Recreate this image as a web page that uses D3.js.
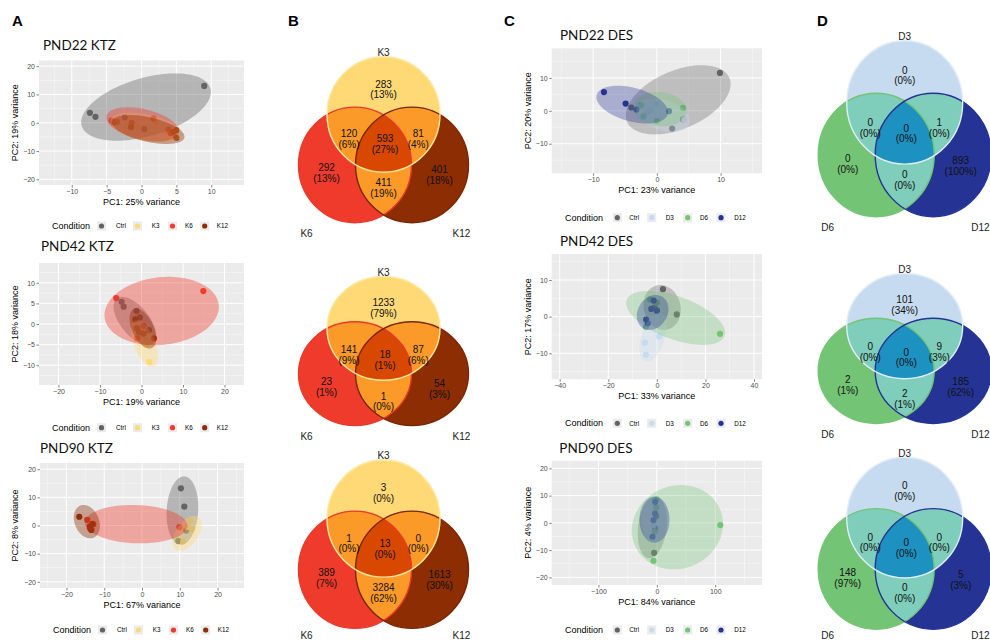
<!DOCTYPE html>
<html><head><meta charset="utf-8">
<script src="https://cdn.jsdelivr.net/npm/d3@7"></script>
<style>body{margin:0;background:#fff}svg{display:block}</style>
</head><body>
<svg id="c" width="990" height="642"></svg>
<script>
// ---------------- DATA ----------------
const ktzGroups = ["Ctrl","K3","K6","K12"];
const desGroups = ["Ctrl","D3","D6","D12"];

// PCA points: [group, PC1, PC2]
const pnd22Ktz = [["Ctrl",-7.4,3.5],["Ctrl",-6.6,2.1],["Ctrl",9.0,13.0],["Ctrl",-2.4,1.9],["Ctrl",0.4,-2.2],
  ["K3",-2.1,-1.2],["K3",-0.4,-1.6],["K3",2.1,0.1],["K3",3.5,-3.2],["K3",-1.4,-1.8],
  ["K6",-4.3,0.8],["K6",-3.5,0.3],["K6",-1.4,0.0],["K6",1.7,1.5],["K6",3.9,-2.4],["K6",4.2,-3.7],
  ["K12",-4.0,0.1],["K12",-1.5,-1.5],["K12",5.0,-2.6],["K12",5.0,-5.3],["K12",4.6,-3.2]];
const pnd42Ktz = [["Ctrl",-4.8,5.4],["Ctrl",-4.3,4.2],["Ctrl",-1.2,3.2],["Ctrl",-0.4,1.6],["Ctrl",1.8,-1.5],
  ["K3",1.9,-9.2],["K3",1.0,-5.1],["K3",1.2,-3.9],["K3",-1.0,-0.7],["K3",0.0,-2.7],
  ["K6",-6.1,6.3],["K6",14.9,8.0],["K6",0.5,-0.5],["K6",-1.0,-3.5],["K6",-1.2,-1.0],
  ["K12",-1.5,1.1],["K12",-1.0,-1.1],["K12",3.0,-3.5],["K12",-0.6,-2.0],["K12",0.5,-2.3]];
const pnd90Ktz = [["Ctrl",10.3,13.2],["Ctrl",11.2,6.7],["Ctrl",11.7,-1.8],["Ctrl",9.6,-5.5],
  ["K3",12.7,1.7],["K3",13.3,-1.3],["K3",10.9,-5.7],["K3",12.0,-0.5],
  ["K6",-14.5,2.0],["K6",-12.9,0.4],["K6",-13.8,-1.0],["K6",9.9,-0.6],
  ["K12",-16.6,3.1],["K12",-13.8,-0.3],["K12",-13.4,-1.6],["K12",-13.1,0.6]];
const pnd22Des = [["Ctrl",9.9,11.5],["Ctrl",-4.0,1.0],["Ctrl",2.4,-5.4],["Ctrl",4.1,-2.6],
  ["D3",-0.1,2.0],["D3",-1.5,-0.4],["D3",4.3,-2.7],["D3",-1.0,0.2],
  ["D6",-2.5,1.7],["D6",-2.1,-1.7],["D6",0.0,-3.1],["D6",4.1,0.9],
  ["D12",-8.3,5.7],["D12",-4.9,2.2],["D12",-3.2,0.4],["D12",1.9,-0.1]];
const pnd42Des = [["Ctrl",2.5,7.5],["Ctrl",8.2,0.6],["Ctrl",0.0,1.7],["Ctrl",-1.0,2.5],
  ["D3",-4.9,-7.1],["D3",-4.5,-10.4],["D3",1.0,-5.4],["D3",-4.4,-1.1],
  ["D6",-2.8,4.7],["D6",26.0,-4.7],["D6",-4.5,-2.8],["D6",0.0,3.8],
  ["D12",-1.3,4.4],["D12",-2.3,2.1],["D12",-4.4,-0.8],["D12",-3.7,-1.8],["D12",0.0,1.6]];
const pnd90Des = [["Ctrl",-4.7,-11.0],["Ctrl",-0.9,2.4],["Ctrl",-3.0,-2.0],
  ["D3",-5.8,-0.8],["D3",-4.0,4.0],["D3",-3.0,7.0],
  ["D6",108.6,-0.8],["D6",-5.8,-13.9],["D6",-0.4,8.6],["D6",-0.9,5.7],["D6",-3.6,-3.2],
  ["D12",-2.9,7.7],["D12",-5.8,1.0],["D12",-7.5,-5.1],["D12",-3.0,3.4]];

// confidence ellipses: [group, cx, cy, halfWidth, halfHeight, tilt]
const pnd22KtzEll = [["Ctrl",0.65,5.55,9.3,11.9,0.45],["K3",0.65,-1.76,5.14,5.3,-0.45],["K6",0.15,-0.57,5.19,6.07,-0.4],["K12",0.96,-2.4,5.21,5.12,-0.5]];
const pnd42KtzEll = [["Ctrl",-1.6,0.72,5.14,5.87,-0.6],["K3",0.72,-4.74,3.21,5.66,-0.55],["K6",4.86,3.15,13.78,8.29,0.12],["K12",0.32,-1.1,3.21,4.85,-0.5]];
const pnd90KtzEll = [["Ctrl",10.7,5.28,4.2,12.16,0.1],["K3",11.94,-2.79,3.85,6.17,0.5],["K6",-1.55,0.47,13.57,6.82,-0.08],["K12",-14.6,1.36,3.45,5.93,-0.25]];
const pnd22DesEll = [["Ctrl",3.35,3.35,8.22,10.52,0.45],["D3",1.0,-1.37,4.19,5.08,-0.35],["D6",0.47,0.51,4.19,5.23,-0.1],["D12",-3.87,1.88,5.62,5.74,-0.4]];
const pnd42DesEll = [["Ctrl",2.18,2.51,7.68,6.13,-0.1],["D3",-1.52,-5.58,5.62,6.68,0.45],["D6",7.74,-0.35,20.37,7.36,-0.55],["D12",-1.73,1.14,6.52,4.77,0.2]];
const pnd90DesEll = [["Ctrl",-7.8,-1.72,24.9,11.3,0.2],["D3",-2.9,1.15,22.9,8.7,0],["D6",35.1,-1.6,78.0,15.47,0.08],["D12",-4.1,1.15,25.7,8.44,0]];

// axis ticks
const ticksA1x=[-10,-5,0,5,10], ticksA1y=[-20,-10,0,10,20];
const ticksA2x=[-20,-10,0,10,20], ticksA2y=[-10,-5,0,5,10];
const ticksA3x=[-20,-10,0,10,20], ticksA3y=[-20,-10,0,10,20];
const ticksC1x=[-10,0,10], ticksC1y=[-10,0,10];
const ticksC2x=[-40,-20,0,20,40], ticksC2y=[-10,0,10];
const ticksC3x=[-100,0,100], ticksC3y=[-20,-10,0,10,20];

const pc1Var = {A1:25,A2:19,A3:67,C1:23,C2:33,C3:84};
const pc2Var = {A1:19,A2:18,A3:8,C1:20,C2:17,C3:4};
const plotTitles = {A1:"PND22 KTZ",A2:"PND42 KTZ",A3:"PND90 KTZ",C1:"PND22 DES",C2:"PND42 DES",C3:"PND90 DES"};

// Venn regions order: topOnly, top&left, all, top&right, leftOnly, left&right, rightOnly
const vennKtzNames = ["K3","K6","K12"];
const vennDesNames = ["D3","D6","D12"];
const vennB1 = [283,120,593,81,292,411,401], vennB1Pct = [13,6,27,4,13,19,18];
const vennB2 = [1233,141,18,87,23,1,54],     vennB2Pct = [79,9,1,6,1,0,3];
const vennB3 = [3,1,13,0,389,3284,1613],     vennB3Pct = [0,0,0,0,7,62,30];
const vennD1 = [0,0,0,1,0,0,893],            vennD1Pct = [0,0,0,0,0,0,100];
const vennD2 = [101,0,0,9,2,2,185],          vennD2Pct = [34,0,0,3,1,1,62];
const vennD3 = [0,0,0,0,148,0,5],            vennD3Pct = [0,0,0,0,97,0,3];

// ---------------- STYLE / LAYOUT ----------------
const svg = d3.select("#c");
const FONT = '"Liberation Sans", Arial, Helvetica, sans-serif';
const TFONT = 'Lato, "Open Sans", sans-serif';
const ktzCol = ["#636363","#FED976","#EF3B2C","#8C2D04"];
const desCol = ["#636363","#C6DBEF","#74C476","#253494"];
const defs = svg.append("defs");

function pca(o){
  const g = svg.append("g");
  const x = d3.scaleLinear().domain(o.xDom).range([o.l,o.r]);
  const y = d3.scaleLinear().domain(o.yDom).range([o.b,o.t]);
  g.append("rect").attr("x",o.l).attr("y",o.t).attr("width",o.r-o.l).attr("height",o.b-o.t).attr("fill","#EBEBEB");
  const minor = (tk,dom)=>{const st=tk[1]-tk[0],a=[];for(let v=tk[0]-st*Math.ceil((tk[0]-dom[0])/st)-st/2;v<=dom[1];v+=st){if(v>=dom[0])a.push(v);}return a;};
  g.selectAll(null).data(minor(o.xt,o.xDom)).join("line").attr("x1",d=>x(d)).attr("x2",d=>x(d)).attr("y1",o.t).attr("y2",o.b).attr("stroke","#fff").attr("stroke-width",0.5).attr("opacity",0.8);
  g.selectAll(null).data(minor(o.yt,o.yDom)).join("line").attr("y1",d=>y(d)).attr("y2",d=>y(d)).attr("x1",o.l).attr("x2",o.r).attr("stroke","#fff").attr("stroke-width",0.5).attr("opacity",0.8);
  g.selectAll(null).data(o.xt).join("line").attr("x1",d=>x(d)).attr("x2",d=>x(d)).attr("y1",o.t).attr("y2",o.b).attr("stroke","#fff").attr("stroke-width",1);
  g.selectAll(null).data(o.yt).join("line").attr("y1",d=>y(d)).attr("y2",d=>y(d)).attr("x1",o.l).attr("x2",o.r).attr("stroke","#fff").attr("stroke-width",1);
  const cid = "clip"+o.id;
  defs.append("clipPath").attr("id",cid).append("rect").attr("x",o.l).attr("y",o.t).attr("width",o.r-o.l).attr("height",o.b-o.t);
  const pg = g.append("g").attr("clip-path",`url(#${cid})`);
  pg.selectAll("circle").data(o.pts).join("circle")
    .attr("cx",d=>x(d[1])).attr("cy",d=>y(d[2])).attr("r",3.1)
    .attr("fill",d=>o.cols[o.groups.indexOf(d[0])]);
  const line = d3.line().x(d=>x(d[0])).y(d=>y(d[1]));
  pg.selectAll("path").data(o.ell).join("path")
    .attr("d",e=>{const ph=Math.acos(e[5]);return line(d3.range(0,121).map(i=>{const t=i/120*2*Math.PI;return [e[1]+e[3]*Math.cos(t),e[2]+e[4]*Math.cos(t-ph)];}))+"Z";})
    .attr("fill",e=>o.cols[o.groups.indexOf(e[0])]).attr("fill-opacity",o.alpha);
  const fmt = d3.format("d");
  const ax = g.append("g").attr("transform",`translate(0,${o.b})`).call(d3.axisBottom(x).tickValues(o.xt).tickSize(2.5).tickPadding(1.5).tickFormat(fmt));
  const ay = g.append("g").attr("transform",`translate(${o.l},0)`).call(d3.axisLeft(y).tickValues(o.yt).tickSize(2.5).tickPadding(1.5).tickFormat(fmt));
  [ax,ay].forEach(a=>{a.select(".domain").remove();a.selectAll("line").attr("stroke","#333").attr("stroke-width",0.6);
    a.selectAll("text").attr("fill","#4D4D4D").style("font-family",FONT).style("font-size","7px");});
  g.append("text").attr("x",(o.l+o.r)/2).attr("y",o.b+20).attr("text-anchor","middle").style("font-family",FONT).style("font-size","9px").text(`PC1: ${o.v1}% variance`);
  g.append("text").attr("transform",`translate(${o.yl},${(o.t+o.b)/2}) rotate(-90)`).attr("text-anchor","middle").attr("dy","0.35em").style("font-family",FONT).style("font-size","9px").text(`PC2: ${o.v2}% variance`);
  g.append("text").attr("x",o.tx).attr("y",o.ty+5).style("font-family",TFONT).style("font-size","13.5px").attr("fill","#111").text(o.title);
  // legend
  const lg = g.append("g");
  lg.append("text").attr("x",o.lx).attr("y",o.ly).attr("dy","0.35em").style("font-family",FONT).style("font-size","9px").text("Condition");
  o.groups.forEach((gr,i)=>{
    const kc = o.lx + o.keyOff[i];
    lg.append("rect").attr("x",kc-4.5).attr("y",o.ly-4.5).attr("width",9).attr("height",9).attr("fill","#EBEBEB");
    lg.append("circle").attr("cx",kc).attr("cy",o.ly).attr("r",2.6).attr("fill",o.cols[i]);
    lg.append("text").attr("x",o.lx+o.labOff[i]).attr("y",o.ly).attr("dy","0.35em").style("font-family",FONT).style("font-size","6.3px").text(gr);
  });
}

const ktzKey=[49.5,85.5,120.5,152.7], ktzLab=[64,99.7,133,164.7];
const desKey=[52.3,86.7,122.7,156], desLab=[64.3,100.7,135,169.3];

pca({id:"A1",pts:pnd22Ktz,ell:pnd22KtzEll,groups:ktzGroups,cols:ktzCol,alpha:0.4,xDom:[-14.7,14.7],yDom:[-22,22],xt:ticksA1x,yt:ticksA1y,
  l:39,r:244,t:60.5,b:185,v1:pc1Var.A1,v2:pc2Var.A1,yl:15,title:plotTitles.A1,tx:43,ty:45,lx:52,ly:226,keyOff:ktzKey,labOff:ktzLab});
pca({id:"A2",pts:pnd42Ktz,ell:pnd42KtzEll,groups:ktzGroups,cols:ktzCol,alpha:0.4,xDom:[-24.7,24.7],yDom:[-14.8,14.8],xt:ticksA2x,yt:ticksA2y,
  l:39,r:244,t:263,b:385,v1:pc1Var.A2,v2:pc2Var.A2,yl:15,title:plotTitles.A2,tx:41,ty:246,lx:52,ly:427.7,keyOff:ktzKey,labOff:ktzLab});
pca({id:"A3",pts:pnd90Ktz,ell:pnd90KtzEll,groups:ktzGroups,cols:ktzCol,alpha:0.4,xDom:[-27,27],yDom:[-22.2,22.2],xt:ticksA3x,yt:ticksA3y,
  l:40,r:244,t:463,b:588,v1:pc1Var.A3,v2:pc2Var.A3,yl:15,title:plotTitles.A3,tx:40,ty:448.3,lx:53,ly:630,keyOff:ktzKey,labOff:ktzLab});
pca({id:"C1",pts:pnd22Des,ell:pnd22DesEll,groups:desGroups,cols:desCol,alpha:0.33,xDom:[-16.5,16.5],yDom:[-19,19],xt:ticksC1x,yt:ticksC1y,
  l:551.7,r:762,t:48.3,b:173.3,v1:pc1Var.C1,v2:pc2Var.C1,yl:528.3,title:plotTitles.C1,tx:560,ty:35,lx:565,ly:217.7,keyOff:desKey,labOff:desLab});
pca({id:"C2",pts:pnd42Des,ell:pnd42DesEll,groups:desGroups,cols:desCol,alpha:0.33,xDom:[-43.3,43.3],yDom:[-17.1,17.1],xt:ticksC2x,yt:ticksC2y,
  l:551.7,r:762,t:254,b:379.3,v1:pc1Var.C2,v2:pc2Var.C2,yl:528.3,title:plotTitles.C2,tx:560,ty:240.7,lx:565,ly:423.3,keyOff:desKey,labOff:desLab});
pca({id:"C3",pts:pnd90Des,ell:pnd90DesEll,groups:desGroups,cols:desCol,alpha:0.33,xDom:[-180,180],yDom:[-22.8,22.8],xt:ticksC3x,yt:ticksC3y,
  l:551.7,r:762,t:460.7,b:585,v1:pc1Var.C3,v2:pc2Var.C3,yl:528.3,title:plotTitles.C3,tx:559.3,ty:448.3,lx:565,ly:630,keyOff:desKey,labOff:desLab});

// ---------------- VENN ----------------
const regDx = [0,-34.5,1.5,34.7,-57,0,56];
const regFy = [0.197,0.495,0.527,0.495,0.70,0.79,0.712];
function venn(o,counts,pcts,names,c){
  const s=o.H/(2*o.rx+0.866*o.d), ry=o.rx*s, vs=0.866*o.d*s;
  const cs=[[o.cx,o.y0+ry],[o.cx-o.d/2,o.y0+ry+vs],[o.cx+o.d/2,o.y0+ry+vs]];
  const ids=cs.map((p,i)=>{const id=`v${o.id}${i}`;defs.append("clipPath").attr("id",id).append("ellipse").attr("cx",p[0]).attr("cy",p[1]).attr("rx",o.rx).attr("ry",ry);return id;});
  const g=svg.append("g");
  const el=(p,i)=>p.append("ellipse").attr("cx",cs[i][0]).attr("cy",cs[i][1]).attr("rx",o.rx).attr("ry",ry);
  c.fill.forEach((f,i)=>el(g,i).attr("fill",f));
  el(g.append("g").attr("clip-path",`url(#${ids[0]})`),1).attr("fill",c.pair);
  el(g.append("g").attr("clip-path",`url(#${ids[0]})`),2).attr("fill",c.pair);
  el(g.append("g").attr("clip-path",`url(#${ids[1]})`),2).attr("fill",c.pair);
  el(g.append("g").attr("clip-path",`url(#${ids[0]})`).append("g").attr("clip-path",`url(#${ids[1]})`),2).attr("fill",c.all);
  [1,2,0].forEach(i=>el(g,i).attr("fill","none").attr("stroke",c.stroke[i]).attr("stroke-width",1.4));
  const tH = o.H*(o.ts||1);
  counts.forEach((n,i)=>{
    const xc=o.cx+regDx[i], yc=o.y0+regFy[i]*tH;
    g.append("text").attr("x",xc).attr("y",yc-5.35).attr("dy","0.36em").attr("text-anchor","middle").style("font-family",FONT).style("font-size","10px").attr("fill","#111").text(n);
    g.append("text").attr("x",xc).attr("y",yc+5.35).attr("dy","0.36em").attr("text-anchor","middle").style("font-family",FONT).style("font-size","10px").attr("fill","#111").text(`(${pcts[i]}%)`);
  });
  const lab=(x,y,t)=>g.append("text").attr("x",x).attr("y",y).attr("dy","0.36em").attr("text-anchor","middle").style("font-family",FONT).style("font-size","10px").attr("fill","#222").text(t);
  const by=Math.min(o.y0+o.H+10.5,635.5);
  lab(o.cx,o.y0-4.4,names[0]);
  lab(o.cx-77,by,names[1]);
  lab(Math.min(o.cx+78,980.5),by,names[2]);
}
const colB={fill:["#FED976","#EF3B2C","#8C2D04"],pair:"#FB9A29",all:"#D94801",stroke:["#FFE8A0","#E8392B","#7A2600"]};
const colD={fill:["#C6DBEF","#74C476","#253494"],pair:"#7FCDBB",all:"#1D91C0",stroke:["#E2EDF8","#74C476","#253494"]};
venn({id:"B1",cx:383.5,y0:56.7,H:166,rx:56.5,d:57},vennB1,vennB1Pct,vennKtzNames,colB);
venn({id:"B2",cx:383.5,y0:276.5,H:149,rx:56.5,d:57,ts:1.06},vennB2,vennB2Pct,vennKtzNames,colB);
venn({id:"B3",cx:383.5,y0:460,H:168.3,rx:56.5,d:57},vennB3,vennB3Pct,vennKtzNames,colB);
venn({id:"D1",cx:904.7,y0:40.7,H:176,rx:58,d:57},vennD1,vennD1Pct,vennDesNames,colD);
venn({id:"D2",cx:904.7,y0:273.5,H:150,rx:58,d:57,ts:1.06},vennD2,vennD2Pct,vennDesNames,colD);
venn({id:"D3",cx:904.7,y0:457.3,H:172,rx:58,d:57},vennD3,vennD3Pct,vennDesNames,colD);

// panel letters
[["A",12],["B",288],["C",504],["D",817]].forEach(([t,x])=>svg.append("text").attr("x",x).attr("y",26).style("font-family",FONT).style("font-size","15px").style("font-weight","bold").text(t));
</script>
</body></html>
